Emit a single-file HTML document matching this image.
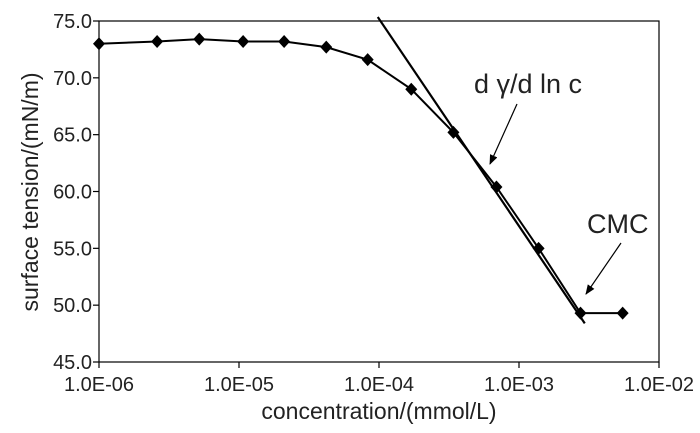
<!DOCTYPE html>
<html><head><meta charset="utf-8"><style>
body{margin:0;background:#fff}
svg{display:block;font-family:"Liberation Sans",Arial,sans-serif}
</style></head><body>
<svg id="chart" width="700" height="433" viewBox="0 0 700 433">
<defs><marker id="ah" markerWidth="10" markerHeight="8" refX="9" refY="4" orient="auto" markerUnits="userSpaceOnUse"><path d="M0,0 L10,4 L0,8 Z" fill="#000"/></marker></defs>
<rect x="99" y="21" width="560" height="341" fill="#fff" stroke="#000" stroke-width="1.2"/>
<g id="axes"></g>
<g id="series"></g>
<text transform="translate(38,192) rotate(-90)" text-anchor="middle" font-size="23" fill="#222">surface tension/(mN/m)</text>
<text x="379" y="419" text-anchor="middle" font-size="23" fill="#222">concentration/(mmol/L)</text>
<text x="474" y="93" font-size="27" fill="#222">d γ/d ln c</text>
<line x1="517" y1="104" x2="490" y2="164" stroke="#000" stroke-width="1.2" marker-end="url(#ah)"/>
<text x="587" y="233" font-size="27" fill="#222">CMC</text>
<line x1="621" y1="243" x2="586" y2="294" stroke="#000" stroke-width="1.2" marker-end="url(#ah)"/>
</svg>
<script>
const conc=[1.0e-6,2.6e-6,5.2e-6,1.07e-5,2.1e-5,4.2e-5,8.3e-5,1.7e-4,3.4e-4,6.9e-4,1.38e-3,2.75e-3,5.5e-3];
const tension=[73.0,73.2,73.4,73.2,73.2,72.7,71.6,69.0,65.2,60.4,55.0,49.3,49.3];
const tangentX=[9.8e-5,2.95e-3];
const tangentY=[75.35,48.4];
const yTicks=[45,50,55,60,65,70,75];
const xTicks=[1e-6,1e-5,1e-4,1e-3,1e-2];
const xTickLabels=["1.0E-06","1.0E-05","1.0E-04","1.0E-03","1.0E-02"];
const NS="http://www.w3.org/2000/svg";
const X=v=>99+(Math.log10(v)+6)*140;
const Y=v=>362-(v-45)*(341/30);
function mk(t,a,p){const e=document.createElementNS(NS,t);for(const k in a)e.setAttribute(k,a[k]);p.appendChild(e);return e;}
const ax=document.getElementById('axes'),sr=document.getElementById('series');
yTicks.forEach(v=>{
 const t=mk('line',{x1:93,x2:99,y1:Y(v),y2:Y(v),stroke:'#000','stroke-width':1.2},ax);
 
 
 const l=mk('text',{x:92,y:Y(v)+7,'text-anchor':'end','font-size':20,fill:'#222'},ax);
 l.textContent=v.toFixed(1);
 
 
});
xTicks.forEach((v,i)=>{
 const t=mk('line',{x1:X(v),x2:X(v),y1:362,y2:368,stroke:'#000','stroke-width':1.2},ax);
 
 
 const l=mk('text',{x:X(v),y:391,'text-anchor':'middle','font-size':20,fill:'#222'},ax);
 l.textContent=xTickLabels[i];
 
 
});
const tl=mk('line',{x1:X(tangentX[0]),y1:Y(tangentY[0]),x2:X(tangentX[1]),y2:Y(tangentY[1]),stroke:'#000','stroke-width':2.2},sr);


const pl=mk('polyline',{points:conc.map((c,i)=>X(c)+','+Y(tension[i])).join(' '),fill:'none',stroke:'#000','stroke-width':2},sr);


conc.forEach((c,i)=>{
 const x=X(c),y=Y(tension[i]);
 const m=mk('path',{d:`M${x},${y-6.5}L${x+6},${y}L${x},${y+6.5}L${x-6},${y}Z`,fill:'#000'},sr);
 
 
});
</script>
</body></html>
